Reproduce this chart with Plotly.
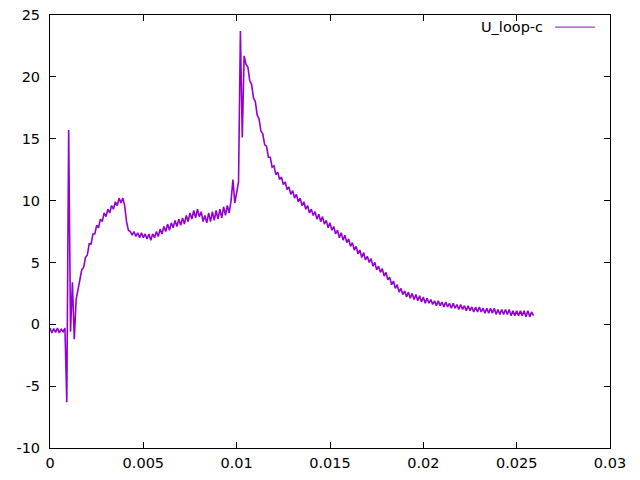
import plotly.graph_objects as go

# sampling grid of the recorded signal
T_START = 0.0
T_STEP = 0.0001

u_loop_c = [
    -0.3, -0.7, -0.35, -0.65, -0.3, -0.7, -0.4, -0.6, -0.3, -6.3,
    15.7, -0.6, 3.4, -1.2, 2.0, 3.0, 3.6, 4.4, 4.6, 5.4,
    5.6, 6.5, 6.5, 7.3, 7.3, 8.0, 7.8, 8.5, 8.3, 9.0,
    8.7, 9.3, 9.0, 9.6, 9.3, 9.9, 9.6, 10.2, 9.8, 10.2,
    9.6, 8.3, 7.6, 7.5, 7.2, 7.5, 7.1, 7.4, 7.0, 7.4,
    7.0, 7.3, 6.9, 7.3, 6.8, 7.3, 7.0, 7.5, 7.1, 7.7,
    7.3, 7.9, 7.5, 8.1, 7.6, 8.2, 7.8, 8.4, 7.9, 8.5,
    8.0, 8.6, 8.1, 8.8, 8.3, 9.0, 8.5, 9.2, 8.6, 9.3,
    8.7, 9.1, 8.3, 8.8, 8.2, 9.0, 8.3, 9.1, 8.4, 9.2,
    8.5, 9.3, 8.6, 9.5, 8.8, 9.6, 9.0, 10.0, 11.7, 9.8,
    10.6, 11.5, 23.7, 15.1, 21.7, 21.0, 20.8, 19.7, 19.4, 18.3,
    18.0, 16.9, 16.6, 15.6, 15.4, 14.5, 14.4, 13.5, 13.5, 12.7,
    12.8, 12.1, 12.3, 11.7, 11.9, 11.3, 11.5, 10.9, 11.1, 10.5,
    10.8, 10.2, 10.5, 9.9, 10.2, 9.6, 9.9, 9.3, 9.6, 9.0,
    9.3, 8.8, 9.1, 8.5, 8.9, 8.3, 8.7, 8.1, 8.4, 7.8,
    8.2, 7.6, 7.9, 7.3, 7.6, 7.0, 7.4, 6.8, 7.2, 6.6,
    6.9, 6.3, 6.6, 6.0, 6.3, 5.7, 6.0, 5.4, 5.8, 5.2,
    5.5, 5.0, 5.3, 4.7, 5.0, 4.4, 4.7, 4.2, 4.5, 3.9,
    4.2, 3.6, 3.8, 3.2, 3.5, 2.9, 3.2, 2.6, 2.9, 2.4,
    2.7, 2.2, 2.6, 2.1, 2.5, 2.0, 2.4, 1.9, 2.3, 1.8,
    2.2, 1.7, 2.1, 1.7, 2.0, 1.6, 1.9, 1.5, 1.9, 1.5,
    1.8, 1.4, 1.8, 1.4, 1.7, 1.3, 1.7, 1.3, 1.6, 1.2,
    1.6, 1.2, 1.5, 1.1, 1.5, 1.1, 1.4, 1.0, 1.4, 1.0,
    1.4, 1.0, 1.3, 0.9, 1.3, 0.9, 1.3, 0.9, 1.3, 0.8,
    1.2, 0.8, 1.2, 0.8, 1.2, 0.8, 1.2, 0.7, 1.1, 0.7,
    1.1, 0.7, 1.1, 0.7, 1.1, 0.6, 1.1, 0.6, 1.0, 0.7,
]
t = [round(T_START + i * T_STEP, 6) for i in range(len(u_loop_c))]

x_tickvals = [0, 0.005, 0.01, 0.015, 0.02, 0.025, 0.03]
x_ticktext = ["0", "0.005", "0.01", "0.015", "0.02", "0.025", "0.03"]
y_tickvals = [-10, -5, 0, 5, 10, 15, 20, 25]
y_ticktext = ["-10", "-5", "0", "5", "10", "15", "20", "25"]
series_name = "U_loop-c"
line_color = "#9400D3"

FONT = dict(family="DejaVu Sans, Liberation Sans, sans-serif", size=14.5, color="black")

fig = go.Figure()
fig.add_trace(go.Scatter(x=t, y=u_loop_c, mode="lines", name=series_name,
                         line=dict(color=line_color, width=1.6), showlegend=False))

axis_common = dict(showgrid=False, zeroline=False, showline=True, linecolor="black",
                   linewidth=1, mirror="allticks", ticks="inside", ticklen=6,
                   tickcolor="black", tickwidth=1, tickfont=FONT, automargin=False)

fig.update_xaxes(range=[0, 0.03], tickvals=x_tickvals, ticktext=x_ticktext,
                 ticklabelstandoff=2, **axis_common)
fig.update_yaxes(range=[-10, 25], tickvals=y_tickvals, ticktext=y_ticktext,
                 ticklabelstandoff=6, **axis_common)

# gnuplot-style key: title then line sample
fig.add_annotation(xref="paper", yref="paper", x=0.884, y=0.972, text=series_name,
                   showarrow=False, xanchor="right", yanchor="middle", font=FONT)
fig.add_shape(type="line", xref="paper", yref="paper", x0=0.902, x1=0.973,
              y0=0.972, y1=0.972, line=dict(color=line_color, width=1))

fig.update_layout(width=640, height=480, paper_bgcolor="white", plot_bgcolor="white",
                  margin=dict(l=50, r=30, t=15, b=32), font=FONT)

fig.write_html("out.html", config={"displayModeBar": False},
               post_script="document.body.style.margin='0';")
